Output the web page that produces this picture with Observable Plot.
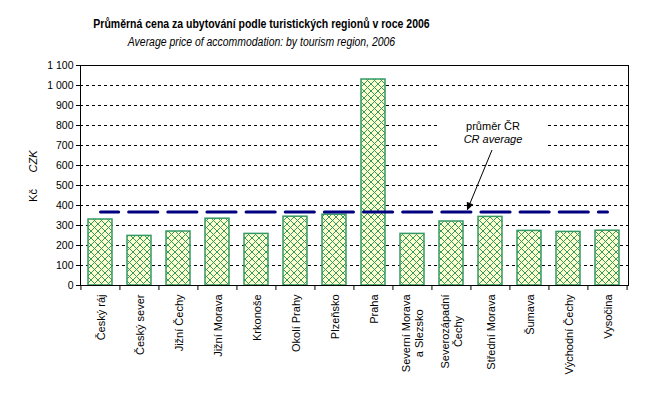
<!DOCTYPE html>
<html><head><meta charset="utf-8">
<script src="https://cdn.jsdelivr.net/npm/d3@7"></script>
<script src="https://cdn.jsdelivr.net/npm/@observablehq/plot@0.6"></script>
<style>
body{margin:0;background:#fff;}
#wrap{position:relative;width:665px;height:396px;overflow:hidden;font-family:"Liberation Sans",Arial,sans-serif;}
#chart{position:absolute;left:0;top:0;}
#title{position:absolute;left:0;top:17px;width:523px;text-align:center;line-height:14px;font-weight:bold;font-size:12px;font-family:"Liberation Sans Narrow","Arial Narrow","Liberation Sans",sans-serif;transform:scaleX(0.874);transform-origin:261.5px 0;white-space:nowrap;}
#subtitle{position:absolute;left:0;top:35px;width:523px;text-align:center;line-height:14px;font-style:italic;font-size:12px;font-family:"Liberation Sans Narrow","Arial Narrow","Liberation Sans",sans-serif;transform:scaleX(0.87);transform-origin:261.5px 0;white-space:nowrap;}
</style></head><body>
<div id="wrap"><div id="chart"></div>
<div id="title">Průměrná cena za ubytování podle turistických regionů v roce 2006</div>
<div id="subtitle">Average price of accommodation: by tourism region, 2006</div>
</div>
<script>
const categories = ["Český ráj","Český sever","Jižní Čechy","Jižní Morava","Krkonoše","Okolí Prahy","Plzeňsko","Praha","Severní Morava\na Slezsko","Severozápadní\nČechy","Střední Morava","Šumava","Východní Čechy","Vysočina"];
const prices = [330,248,270,334,258,344,354,1030,258,320,343,273,268,274];
const czAverage = 367;
const yTicks = [0,100,200,300,400,500,600,700,800,900,1000,1100];
const gridValues = [100,200,300,400,500,600,700,800,900,1000];
const yTitle = ["Kč","CZK"];
const annotationLines = ["průměr ČR","CR average"];

const W=665,H=396,mL=80,mR=37,mT=65,mB=111;
const step=(W-mL-mR)/categories.length;
const data=categories.map((c,i)=>({region:c,price:prices[i]}));
const avgData=categories.map(c=>({region:c,value:czAverage}));
const fmt=d3.formatLocale({thousands:"\u00a0",grouping:[3],decimal:",",currency:["",""]}).format(",");
const ctx=document.createElement("canvas").getContext("2d");
ctx.font="11px 'Liberation Sans'";
const labelLen=c=>d3.max(c.split("\n"),s=>ctx.measureText(s).width);

const defsMark=()=>{
  const g=d3.create("svg:g");
  const p=g.append("defs").append("pattern").attr("id","hatch").attr("patternUnits","userSpaceOnUse").attr("width",7).attr("height",7);
  p.append("rect").attr("width",7).attr("height",7).attr("fill","#FFFFCC");
  p.append("path").attr("d","M0,0L7,7M7,0L0,7").attr("stroke","#339966").attr("stroke-width",1);
  return g.node();
};

const chart=Plot.plot({
  width:W,height:H,marginLeft:mL,marginRight:mR,marginTop:mT,marginBottom:mB,
  style:{fontFamily:"'Liberation Sans',Arial,sans-serif",color:"#000",background:"#fff"},
  x:{domain:categories,paddingInner:0.38,paddingOuter:0.19,label:null},
  y:{domain:[0,1100],label:null},
  marks:[
    defsMark,
    Plot.ruleY(gridValues,{stroke:"#000",strokeDasharray:"3,3",strokeWidth:1}),
    Plot.barY(data,{x:"region",y:"price",fill:"url(#hatch)",stroke:"#339966",strokeWidth:1.5}),
    Plot.lineY(avgData,{x:"region",y:"value",stroke:"#000080",strokeWidth:3,strokeDasharray:`${step-10},10`,strokeDashoffset:11}),
    Plot.frame({stroke:"#000"}),
    Plot.axisY({ticks:yTicks,tickSize:4,tickPadding:3,tickFormat:fmt,fontSize:10.5,label:null}),
    Plot.axisX({ticks:categories,tickSize:5,tickFormat:()=>"",dx:-step/2,label:null}),
    Plot.axisX({ticks:[categories[categories.length-1]],tickSize:5,tickFormat:()=>"",dx:step/2,label:null}),
    ...categories.map(c=>Plot.text([c],{x:d=>d,text:d=>d,frameAnchor:"bottom",rotate:-90,textAnchor:"middle",lineAnchor:"middle",dy:9+labelLen(c)/2,fontSize:11,lineHeight:1.15})),
    Plot.text([yTitle[0]],{frameAnchor:"left",dx:-47,dy:20,rotate:-90,text:d=>d,fontSize:11,textAnchor:"middle",lineAnchor:"middle"}),
    Plot.text([yTitle[1]],{frameAnchor:"left",dx:-47,dy:-14,rotate:-90,text:d=>d,fontSize:11,fontStyle:"italic",textAnchor:"middle",lineAnchor:"middle"})
  ]
});
document.getElementById("chart").appendChild(chart);

// annotation
const xs=chart.scale("x"), ys=chart.scale("y");
const cx=c=>xs.apply(c)+xs.bandwidth/2;
const svg=d3.select(chart);
const ann=svg.append("g");
ann.append("rect").attr("x",cx(categories[9])-12).attr("width",cx(categories[11])+18-(cx(categories[9])-12))
  .attr("y",ys.apply(880)).attr("height",ys.apply(650)-ys.apply(880)).attr("fill","#fff");
const tx=cx(categories[10])+3;
ann.append("text").attr("x",tx).attr("y",ys.apply(775)).attr("text-anchor","middle").attr("font-size",11).text(annotationLines[0]);
ann.append("text").attr("x",tx).attr("y",ys.apply(710)).attr("text-anchor","middle").attr("font-size",11).attr("font-style","italic").text(annotationLines[1]);
const x0=cx(categories[10])+2, y0=ys.apply(675), x1=cx(categories[9])+16, y1=ys.apply(czAverage)-1;
const ang=Math.atan2(y1-y0,x1-x0), L=8, Wd=3.5;
const bx=x1-L*Math.cos(ang), by=y1-L*Math.sin(ang);
ann.append("line").attr("x1",x0).attr("y1",y0).attr("x2",bx).attr("y2",by).attr("stroke","#000").attr("stroke-width",1);
ann.append("path").attr("d",`M${x1},${y1}L${bx-Wd*Math.sin(ang)},${by+Wd*Math.cos(ang)}L${bx+Wd*Math.sin(ang)},${by-Wd*Math.cos(ang)}Z`).attr("fill","#000");
</script>
</body></html>
